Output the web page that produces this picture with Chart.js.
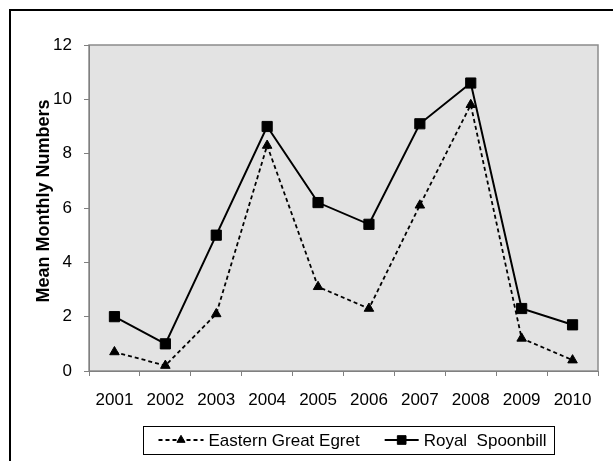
<!DOCTYPE html>
<html>
<head>
<meta charset="utf-8">
<script src="https://cdn.jsdelivr.net/npm/chart.js@4.4.0/dist/chart.umd.min.js"></script>
<style>
  html, body { margin: 0; padding: 0; background: #fff; }
  #wrap { position: relative; width: 613px; height: 461px; }
</style>
</head>
<body>
<div id="wrap"><canvas id="birdChart" width="613" height="461"></canvas></div>
<script>
const years = ['2001', '2002', '2003', '2004', '2005', '2006', '2007', '2008', '2009', '2010'];
const egret = [0.7, 0.2, 2.1, 8.3, 3.1, 2.3, 6.1, 9.8, 1.2, 0.4];
const spoonbill = [2.0, 1.0, 5.0, 9.0, 6.2, 5.4, 9.1, 10.6, 2.3, 1.7];
const yTicks = [0, 2, 4, 6, 8, 10, 12];
const yTitle = 'Mean Monthly Numbers';

const FONT = '"Liberation Sans", Arial, sans-serif';

// grey plot area + the outer frame of the figure
const plotBackground = {
    id: 'plotBackground',
    beforeDraw(chart) {
        const { ctx, chartArea: a } = chart;
        ctx.save();
        ctx.fillStyle = '#fff';
        ctx.fillRect(0, 0, chart.width, chart.height);
        ctx.strokeStyle = '#000';
        ctx.lineWidth = 2;
        ctx.strokeRect(10, 10, 800, 800);
        ctx.fillStyle = '#e3e3e3';
        ctx.fillRect(a.left, a.top, a.right - a.left, a.bottom - a.top);
        ctx.strokeStyle = '#8c8c8c';
        ctx.lineWidth = 1.5;
        ctx.strokeRect(a.left, a.top, a.right - a.left, a.bottom - a.top);
        ctx.restore();
    }
};

// y title sits a little above the middle of the axis, like the original
const axisTitle = {
    id: 'axisTitle',
    afterDraw(chart) {
        const { ctx, chartArea: a } = chart;
        ctx.save();
        ctx.translate(44, (a.top + a.bottom) / 2 - 7);
        ctx.rotate(-Math.PI / 2);
        ctx.font = 'bold 18px ' + FONT;
        ctx.fillStyle = '#000';
        ctx.textAlign = 'center';
        ctx.textBaseline = 'middle';
        ctx.fillText(yTitle, 0, 0);
        ctx.restore();
    }
};

// boxed legend with line + marker samples
const boxedLegend = {
    id: 'boxedLegend',
    afterDraw(chart) {
        const { ctx, chartArea: a } = chart;
        const sets = chart.data.datasets;
        ctx.save();
        ctx.font = '17px ' + FONT;
        const padL = 15, padR = 8, gapText = 5, gapItem = 25;
        const items = sets.map(ds => ({
            ds,
            sample: ds.borderDash.length ? 45 : 34,
            w: ctx.measureText(ds.label).width
        }));
        let total = padL + padR + gapItem * (items.length - 1);
        items.forEach(it => { total += it.sample + gapText + it.w; });
        const top = 426, h = 28;
        const left = Math.round((a.left + a.right) / 2 + 5 - total / 2) + 0.5;
        const mid = top + h / 2;

        ctx.strokeStyle = '#000';
        ctx.lineWidth = 1;
        ctx.strokeRect(left, top + 0.5, Math.round(total), h);

        let x = left + padL;
        items.forEach(it => {
            const ds = it.ds;
            ctx.strokeStyle = ds.borderColor;
            ctx.fillStyle = ds.pointBackgroundColor;
            ctx.lineWidth = ds.borderWidth;
            ctx.setLineDash(ds.borderDash);
            ctx.beginPath();
            ctx.moveTo(x, mid);
            ctx.lineTo(x + it.sample, mid);
            ctx.stroke();
            ctx.setLineDash([]);
            ctx.lineWidth = 1;
            Chart.helpers.drawPoint(ctx, {
                pointStyle: ds.pointStyle,
                radius: ds.pointRadius * 0.85,
                rotation: 0,
                borderWidth: 1
            }, x + it.sample / 2, mid);
            x += it.sample + gapText;
            ctx.fillStyle = '#000';
            ctx.textBaseline = 'middle';
            ctx.textAlign = 'left';
            ctx.fillText(ds.label, x, mid + 1);
            x += it.w + gapItem;
        });
        ctx.restore();
    }
};

new Chart(document.getElementById('birdChart'), {
    type: 'line',
    data: {
        labels: years,
        datasets: [{
            label: 'Eastern Great Egret',
            data: egret,
            borderColor: '#000',
            backgroundColor: '#000',
            borderWidth: 1.8,
            borderDash: [4, 3],
            pointStyle: 'triangle',
            pointRadius: 5.5,
            pointBackgroundColor: '#000',
            pointBorderColor: '#000',
            pointBorderWidth: 1,
            tension: 0,
            fill: false
        }, {
            label: 'Royal  Spoonbill',
            data: spoonbill,
            borderColor: '#000',
            backgroundColor: '#000',
            borderWidth: 2,
            borderDash: [],
            pointStyle: 'rect',
            pointRadius: 7.2,
            pointBackgroundColor: '#000',
            pointBorderColor: '#000',
            pointBorderWidth: 1,
            tension: 0,
            fill: false
        }]
    },
    options: {
        responsive: false,
        animation: false,
        devicePixelRatio: 1,
        layout: { padding: { left: 35, top: 45, right: 15, bottom: 55 } },
        plugins: {
            legend: { display: false },
            tooltip: { enabled: false }
        },
        scales: {
            x: {
                type: 'category',
                offset: true,
                grid: { display: true, drawOnChartArea: false, offset: true, tickLength: 5, color: '#808080' },
                border: { display: true, color: '#808080', width: 1 },
                ticks: { color: '#000', font: { family: FONT, size: 17 }, padding: 14, maxRotation: 0, autoSkip: false },
                afterFit(scale) { scale.height = 35; }
            },
            y: {
                min: 0,
                max: 12,
                afterBuildTicks(scale) { scale.ticks = yTicks.map(v => ({ value: v })); },
                grid: { display: true, drawOnChartArea: false, tickLength: 5, color: '#808080' },
                border: { display: true, color: '#808080', width: 1 },
                ticks: { color: '#000', font: { family: FONT, size: 17 }, padding: 12 },
                title: { display: false },
                afterFit(scale) { scale.width = 54; }
            }
        }
    },
    plugins: [plotBackground, axisTitle, boxedLegend]
});
</script>
</body>
</html>
